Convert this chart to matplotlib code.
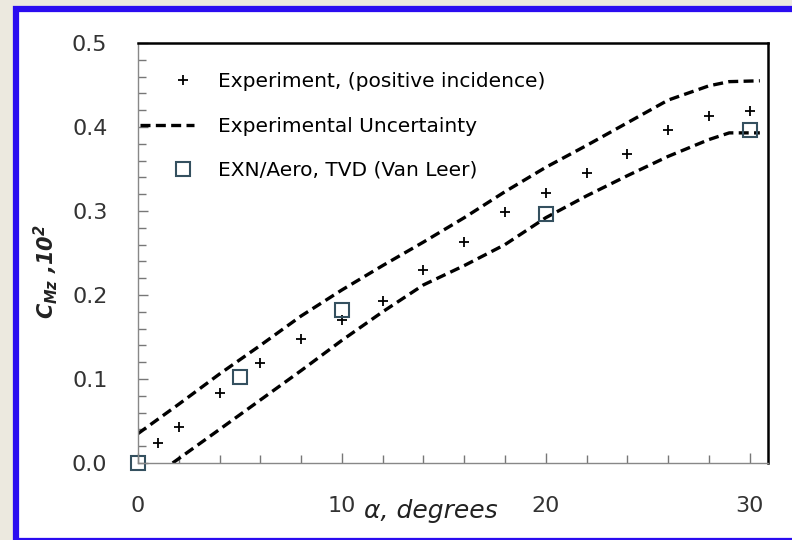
import matplotlib
matplotlib.use('Agg')
import matplotlib.pyplot as plt
from matplotlib.patches import Rectangle
from matplotlib.ticker import MultipleLocator
from matplotlib.legend_handler import HandlerLine2D

plt.rcParams['font.family'] = ['DejaVu Sans']
plt.rcParams['mathtext.fontset'] = 'custom'
plt.rcParams['mathtext.it'] = 'DejaVu Sans:bold:italic'
plt.rcParams['mathtext.rm'] = 'DejaVu Sans:bold:italic'

# experiment, positive incidence
alpha_exp = [1, 2, 4, 6, 8, 10, 12, 14, 16, 18, 20, 22, 24, 26, 28, 30]
cm_exp = [0.024, 0.043, 0.083, 0.119, 0.148, 0.170, 0.193, 0.230, 0.263,
          0.299, 0.322, 0.345, 0.368, 0.397, 0.413, 0.419]

# experimental uncertainty band
alpha_up = [0, 2, 4, 6, 8, 10, 12, 14, 16, 18, 20, 22, 24, 26, 28, 29, 30.5]
cm_up = [0.035, 0.070, 0.106, 0.140, 0.175, 0.206, 0.235, 0.263, 0.292,
         0.323, 0.352, 0.378, 0.405, 0.432, 0.449, 0.454, 0.455]
alpha_low = [1.7, 4, 6, 8, 10, 12, 14, 16, 18, 20, 22, 24, 26, 28, 29, 30.5]
cm_low = [0.0, 0.040, 0.075, 0.110, 0.146, 0.180, 0.212, 0.235, 0.260,
          0.292, 0.318, 0.342, 0.365, 0.385, 0.393, 0.393]

# EXN/Aero results
alpha_cfd = [0, 5, 10, 20, 30]
cm_cfd = [0.0, 0.102, 0.182, 0.297, 0.397]


# legend markers sit towards the right end of the handle, like in the original
class RightMarker(HandlerLine2D):
    def get_xdata(self, legend, xdescent, ydescent, width, height, fontsize):
        xs = [0.6 * width - xdescent, width - xdescent]
        return xs, xs


fig = plt.figure(figsize=(7.92, 5.4), dpi=100)
fig.patch.set_facecolor('#ece9df')
fig.patches.append(Rectangle((16/792, -1/540), 1.2, 1 - 8/540, transform=fig.transFigure,
                             facecolor='white', edgecolor='#2a0cf0', linewidth=4.5, zorder=-10))

ax = fig.add_axes([138/792, 1 - 463/540, 630/792, 420/540])
ax.set_facecolor('none')

l1, = ax.plot(alpha_exp, cm_exp, linestyle='none', marker='+', markersize=7, markeredgewidth=1.3,
              color='black', label='Experiment, (positive incidence)', clip_on=False)
ax.plot(alpha_up, cm_up, color='black', linewidth=2.4, dashes=(3.0, 1.6),
        label='Experimental Uncertainty')
ax.plot(alpha_low, cm_low, color='black', linewidth=2.4, dashes=(3.0, 1.6))
l3, = ax.plot(alpha_cfd, cm_cfd, linestyle='none', marker='s', markersize=10.5, markeredgewidth=1.5,
              markerfacecolor='none', markeredgecolor='#34505f', label='EXN/Aero, TVD (Van Leer)',
              clip_on=False)

ax.set_xlim(0, 30.9)
ax.set_ylim(0, 0.5)
ax.set_xticks([0, 10, 20, 30])
ax.xaxis.set_minor_locator(MultipleLocator(2))
ax.yaxis.set_major_locator(MultipleLocator(0.1))
ax.yaxis.set_minor_locator(MultipleLocator(0.02))
ax.yaxis.set_major_formatter(matplotlib.ticker.FormatStrFormatter('%.1f'))

ax.tick_params(which='both', direction='in', color='#777777', labelcolor='#333333', labelsize=16)
ax.tick_params(which='major', length=7, width=1)
ax.tick_params(which='minor', length=6, width=1)
ax.tick_params(axis='y', pad=22)
ax.tick_params(axis='x', pad=24)

for s in ['left', 'bottom']:
    ax.spines[s].set_color('#888888')
    ax.spines[s].set_linewidth(1)
for s in ['top', 'right']:
    ax.spines[s].set_color('black')
    ax.spines[s].set_linewidth(1.8)

ax.set_xlabel('α, degrees', fontsize=18, style='italic', color='#222222')
ax.xaxis.set_label_coords(0.465, -0.085)
ax.set_ylabel(r'$C_{Mz}$ ,10$^2$', fontsize=15, fontweight='bold', style='italic', color='#222222')
ax.yaxis.set_label_coords(-0.124, 0.455)

ax.legend(loc='upper left', bbox_to_anchor=(0.003, 0.93), frameon=False, fontsize=14.5,
          handlelength=2.7, handletextpad=1.2, labelspacing=1.25, borderaxespad=0, borderpad=0,
          handler_map={l1: RightMarker(), l3: RightMarker()})

plt.savefig('out.png', dpi=100, facecolor=fig.get_facecolor())
plt.close()
